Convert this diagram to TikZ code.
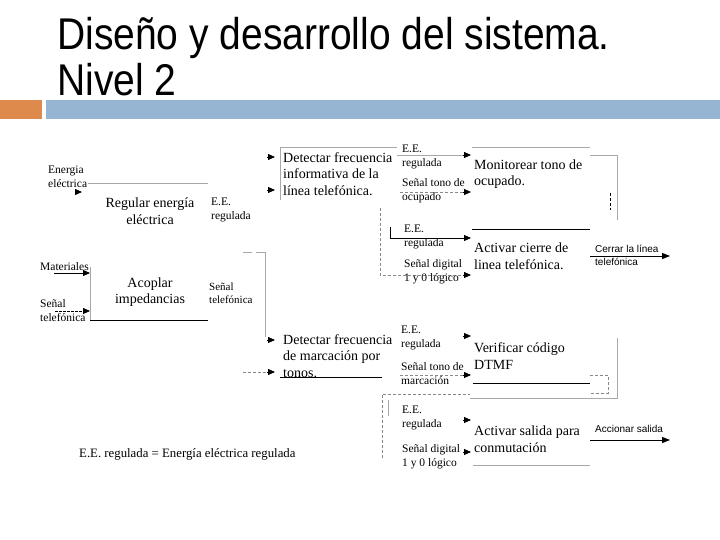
\documentclass[tikz,border=0pt]{standalone}
\usepackage{fontspec}
\setmainfont{Liberation Serif}
\newfontfamily\arialf{Liberation Sans}
\usetikzlibrary{arrows.meta}
\definecolor{barorange}{HTML}{DD8A4C}
\definecolor{barblue}{HTML}{95B5D2}
\definecolor{lgray}{HTML}{A8A8A8}
\definecolor{dgray}{HTML}{888888}
\tikzset{
  big/.style={font=\fontsize{14}{16.5}\selectfont, align=left, anchor=west, inner sep=0pt},
  bigc/.style={font=\fontsize{14}{16.5}\selectfont, align=center, inner sep=0pt},
  small/.style={font=\fontsize{11.5}{14}\selectfont, align=left, anchor=west, inner sep=0pt},
  sans/.style={font=\arialf\fontsize{10}{13}\selectfont, align=left, anchor=west, inner sep=0pt},
  gline/.style={draw=lgray, line width=0.7pt},
  bline/.style={draw=black, line width=0.9pt},
  dline/.style={draw=dgray, dash pattern=on 3pt off 2pt, line width=0.7pt},
  tip/.style={-{Triangle[length=7pt,width=6pt]}, line width=0.8pt, draw=black},
}
\begin{document}
\begin{tikzpicture}[x=1pt,y=-1pt]
\useasboundingbox (0,0) rectangle (720,540);
\fill[white] (0,0) rectangle (720,540);
% title
\node[anchor=base west, inner sep=0pt, font=\arialf\fontsize{39}{46}\selectfont] (t1) at (57,50) {\scalebox{1}[1.14]{Diseño y desarrollo del sistema.}};
\node[anchor=base west, inner sep=0pt, font=\arialf\fontsize{39}{46}\selectfont] (t2) at (57,96) {\scalebox{1}[1.14]{Nivel 2}};
\fill[barorange] (0,100) rectangle (42,119);
\fill[barblue] (46,100) rectangle (720,119);

% ---------- left part
\node[small] (energia) at (48,176.5) {Energia\\eléctrica};
\draw[tip] (75,192) -- (82,192);
\draw[gline] (88,183) -- (208,183);
\node[bigc] (regular) at (150,211) {Regular energía\\eléctrica};
\node[small] (ee1) at (211,210) {E.E.\\regulada};

\node[small] (mat) at (40,267) {Materiales};
\coordinate (matA) at (54,273);
\coordinate (matB) at (90,273);
\draw[tip] (matA) -- (matB);
\node[small] (sen1) at (40,311) {Señal\\telefónica};
\coordinate (senA) at (55,311);
\coordinate (senB) at (90,311);
\draw[tip, dash pattern=on 2.5pt off 1.5pt] (senA) -- (senB);
\draw[gline] (90,267) -- (90,320);
\draw[bline] (90,320) -- (208,320);
\node[bigc] (acoplar) at (150,292) {Acoplar\\impedancias};
\node[small, font=\fontsize{11}{13.5}\selectfont] (sen2) at (209,293) {Señal\\telefónica};

% connector to lower detector
\draw[gline] (243,252) -- (252,252);
\draw[gline] (256,252) -- (265,252) -- (265,337);
\draw[tip] (267,340) -- (275,340);

% ---------- top middle
\draw[gline] (280,200) -- (280,147) -- (397,147);
\draw[tip] (267,157) -- (275,157);
\draw[tip] (267,190) -- (275,190);
\node[big] (det1) at (283,174) {Detectar frecuencia\\informativa de la\\línea telefónica.};
\node[small] (ee2) at (402,157) {E.E.\\regulada};
\draw[gline] (397,155) -- (463,155);
\draw[tip] (463,155) -- (471,155);
\node[small] (sen3) at (402,191) {Señal tono de\\ocupado};
\draw[dline] (400,192) -- (463,192);
\draw[tip] (463,192) -- (471,192);
\draw[dline] (380,208) -- (380,275) -- (463,275);
\draw[tip] (463,275) -- (471,275);
\draw[bline] (390,227) -- (390,238) -- (463,238);
\draw[tip] (463,238) -- (471,238);
\node[small] (ee3) at (404,237) {E.E.\\regulada};
\node[small] (sen4) at (404,272) {Señal digital\\1 y 0 lógico};

% ---------- top right
\node[big] (mon) at (474,174) {Monitorear tono de\\ocupado.};
\draw[gline] (472,147) -- (590,147);
\draw[gline] (590,155) -- (617,155) -- (617,220);
\draw[draw=black, dash pattern=on 3pt off 2pt, line width=0.8pt] (610,193) -- (610,210);
\draw[bline] (472,229) -- (590,229);
\node[big] (act1) at (474,256) {Activar cierre de\\linea telefónica.};
\node[sans] (cerrar) at (595,255.5) {Cerrar la línea\\telefónica};
\coordinate (cerA) at (590,256);
\coordinate (cerB) at (670,256);
\draw[-{Triangle[length=8pt,width=6pt]}, line width=1pt] (cerA) -- (cerB);

% ---------- lower middle
\node[big] (det2) at (283,356) {Detectar frecuencia\\de marcación por\\tonos.};
\draw[tip] (267,372) -- (275,372);
\draw[dline] (243,372) -- (267,372);
\draw[bline] (280,377) -- (382,377);
\node[small] (ee4) at (401,338) {E.E.\\regulada};
\draw[tip] (463,336) -- (471,336);
\node[small] (sen5) at (401,374) {Señal tono de\\marcación};
\draw[dline] (400,375) -- (463,375);
\draw[tip] (463,375) -- (471,375);
\draw[dline] (382,458) -- (382,394) -- (470,394);
\draw[gline] (470,398) -- (617,398) -- (617,338);
\draw[gline] (388,400) -- (388,416);
\node[small] (ee5) at (402,418) {E.E.\\regulada};
\draw[tip] (463,420) -- (471,420);
\node[small] (sen6) at (402,457) {Señal digital\\1 y 0 lógico};
\draw[tip] (463,452) -- (471,452);

% ---------- lower right
\node[big] (ver) at (474,356) {Verificar código\\DTMF};
\draw[bline] (473,383) -- (590,383);
\draw[dline] (590,375) -- (608,375) -- (608,393) -- (590,393);
\node[big] (act2) at (474,439) {Activar salida para\\conmutación};
\draw[gline] (473,465) -- (590,465);
\node[sans] (acc) at (595,429) {Accionar salida};
\coordinate (accA) at (590,440);
\coordinate (accB) at (670,440);
\draw[-{Triangle[length=8pt,width=6pt]}, line width=1pt] (accA) -- (accB);

% footer
\node[anchor=west, inner sep=0pt, font=\fontsize{12.8}{15}\selectfont] (foot) at (79,454) {E.E. regulada = Energía eléctrica regulada};
\end{tikzpicture}
\end{document}
